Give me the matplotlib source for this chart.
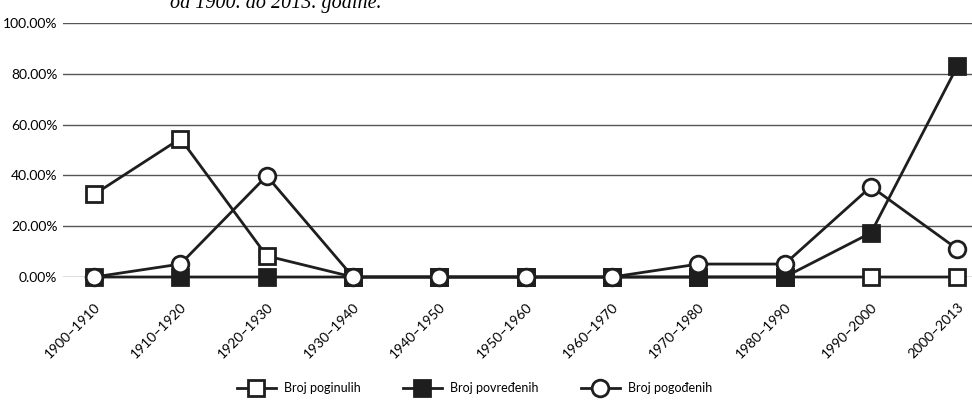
import numpy as np
import matplotlib.pyplot as plt

periods = ['1900–1910', '1910–1920', '1920–1930', '1930–1940', '1940–1950',
           '1950–1960', '1960–1970', '1970–1980', '1980–1990', '1990–2000',
           '2000–2013']
poginulih = [32.5, 54.5, 8.3, 0, 0, 0, 0, 0, 0, 0, 0]
povredjenih = [0, 0, 0, 0, 0, 0, 0, 0, 0, 17.4, 83.0]
pogodjenih = [0, 5.1, 39.8, 0, 0, 0, 0, 5.1, 5.1, 35.6, 11.0]
y_ticks = [0, 20, 40, 60, 80, 100]

plt.rcParams['font.family'] = ['Lato', 'DejaVu Sans']

fig = plt.figure(figsize=(9.72, 4.11), dpi=100)
ax = fig.add_axes([63 / 972, 0.326, 1 - 63 / 972, 0.618])

x = np.arange(len(periods))
dark = '#1e1e1e'

ax.plot(x, poginulih, color=dark, lw=2, marker='s', ms=11, mfc='white',
        mec=dark, mew=2, label='Broj poginulih', clip_on=False, zorder=3)
ax.plot(x, povredjenih, color=dark, lw=2, marker='s', ms=11, mfc=dark,
        mec=dark, mew=2, label='Broj povređenih', clip_on=False, zorder=4)
ax.plot(x, pogodjenih, color=dark, lw=2, marker='o', ms=12, mfc='white',
        mec=dark, mew=2, label='Broj pogođenih', clip_on=False, zorder=5)

ax.set_xlim(-0.36, 10.17)
ax.set_ylim(0, 100)
ax.set_yticks(y_ticks)
ax.set_yticklabels([f'{v:.2f}%' for v in y_ticks], fontsize=10)
ax.yaxis.grid(True, color='#555555', lw=1)
ax.set_axisbelow(True)
ax.tick_params(axis='y', length=0, pad=4)
ax.tick_params(axis='x', length=0, pad=17)
ax.set_xticks(x)
ax.set_xticklabels(periods, rotation=45, ha='right', rotation_mode='anchor',
                   fontsize=10)
for s in ax.spines.values():
    s.set_visible(False)

fig.legend(loc='center', bbox_to_anchor=(0.488, 0.056), ncol=3, frameon=False,
           fontsize=9, handlelength=3.1, columnspacing=3.4, handletextpad=0.65)

fig.text(170 / 972, 0.980, 'od 1900. do 2013. godine.', family='Liberation Serif',
         style='italic', fontsize=14.5, va='baseline')

fig.savefig('out.png', dpi=100)
